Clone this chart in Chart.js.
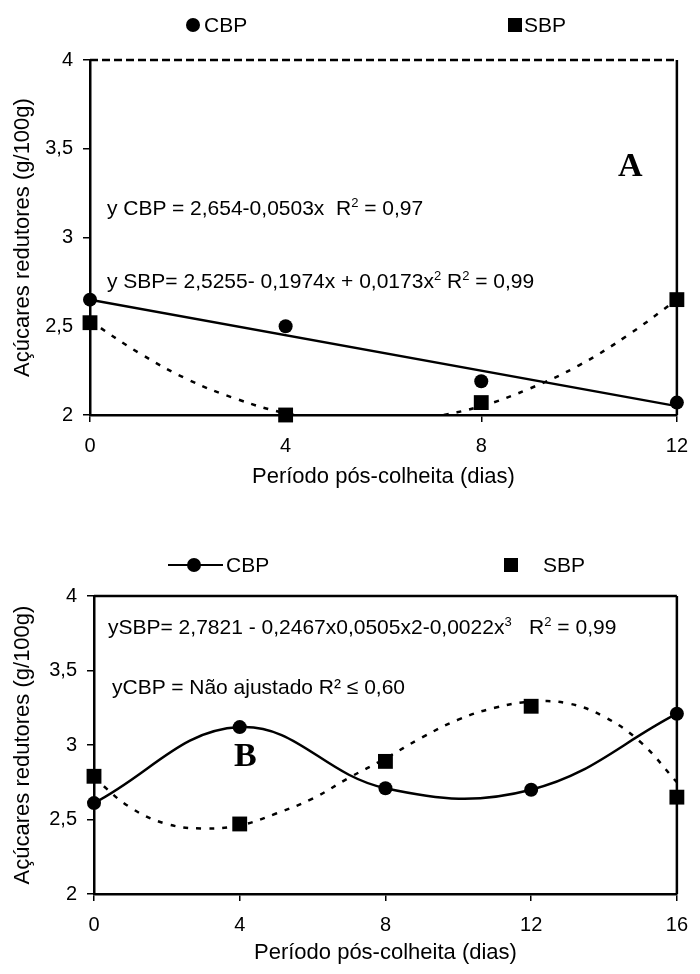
<!DOCTYPE html>
<html>
<head>
<meta charset="utf-8">
<script src="https://cdn.jsdelivr.net/npm/chart.js@4.4.0/dist/chart.umd.min.js"></script>
<style>
  body { margin: 0; background: #fff; width: 700px; height: 974px; position: relative; overflow: hidden;
         font-family: "Liberation Sans", Arial, sans-serif; color: #000; }
  canvas { position: absolute; left: 0; }
  #chartA { top: 0; }
  #chartB { top: 490px; }
  .t { position: absolute; font-size: 21px; line-height: 24px; white-space: nowrap; }
  .t sup { font-size: 13px; vertical-align: 8px; line-height: 0; }
  .dot { position: absolute; width: 14px; height: 14px; border-radius: 50%; background: #000; }
  .sq { position: absolute; width: 14px; height: 14px; background: #000; }
  .ln { position: absolute; height: 2px; background: #000; }
  .big { position: absolute; font-family: "Liberation Serif", "Times New Roman", serif; font-weight: bold;
         font-size: 34px; line-height: 34px; }
</style>
</head>
<body>
<canvas id="chartA" width="700" height="490"></canvas>
<canvas id="chartB" width="700" height="476"></canvas>

<!-- panel A legend and notes -->
<div class="dot" style="left:186px; top:18px;"></div>
<div class="t" style="left:204px; top:13px;">CBP</div>
<div class="sq" style="left:508px; top:18px;"></div>
<div class="t" style="left:524px; top:13px;">SBP</div>
<div class="t" style="left:107px; top:196px;">y CBP = 2,654-0,0503x&nbsp; R<sup>2</sup> = 0,97</div>
<div class="t" style="left:107px; top:269px;">y SBP= 2,5255- 0,1974x + 0,0173x<sup>2</sup> R<sup>2</sup> = 0,99</div>
<div class="big" style="left:618px; top:148px;">A</div>

<!-- panel B legend and notes -->
<div class="ln" style="left:168px; top:564px; width:55px;"></div>
<div class="dot" style="left:187px; top:558px;"></div>
<div class="t" style="left:226px; top:553px;">CBP</div>
<div class="sq" style="left:504px; top:558px;"></div>
<div class="t" style="left:543px; top:553px;">SBP</div>
<div class="t" style="left:108px; top:615px;">ySBP= 2,7821 - 0,2467x0,0505x2-0,0022x<sup>3</sup>&nbsp;&nbsp; R<sup>2</sup> = 0,99</div>
<div class="t" style="left:112px; top:675px;">yCBP = Não ajustado R² ≤ 0,60</div>
<div class="big" style="left:234px; top:738px;">B</div>

<script>
// panel A: observed points
const daysA = [0, 4, 8, 12];
const cbpA = [2.65, 2.50, 2.19, 2.07];
const sbpA = [2.52, 2.00, 2.07, 2.65];
// panel A: fitted lines
const cbpFitDays = [0, 12];
const cbpFitA = [2.65, 2.05];
const sbpFitDaysA = [0, 1, 2, 3, 4, 5, 6, 7, 8, 9, 10, 11, 12];
const sbpFitA = [2.53, 2.35, 2.20, 2.09, 2.01, 1.97, 1.96, 1.99, 2.05, 2.15, 2.28, 2.45, 2.65];

// panel B: observed points
const daysB = [0, 4, 8, 12, 16];
const cbpB = [2.61, 3.12, 2.71, 2.70, 3.21];
const sbpB = [2.79, 2.47, 2.89, 3.26, 2.65];
// panel B: fitted SBP curve
const sbpFitDaysB = [0, 1, 2, 3, 4, 5, 6, 7, 8, 9, 10, 11, 12, 13, 14, 15, 16];
const sbpFitB = [2.78, 2.58, 2.47, 2.44, 2.46, 2.54, 2.64, 2.78, 2.91, 3.05, 3.17, 3.25, 3.29,
                 3.28, 3.19, 3.02, 2.75];

const yTicks = [2, 2.5, 3, 3.5, 4];
const xTicksA = [0, 4, 8, 12];
const xTicksB = [0, 4, 8, 12, 16];
const yTitle = 'Açúcares redutores (g/100g)';
const xTitle = 'Período pós-colheita (dias)';

const FONT = '"Liberation Sans", Arial, sans-serif';

function pts(xs, ys) {
    return xs.map((x, i) => ({ x: x, y: ys[i] }));
}

// top + right frame of the plot area
const framePlugin = {
    id: 'frame',
    beforeDatasetsDraw(chart, args, opts) {
        const { ctx, chartArea } = chart;
        ctx.save();
        ctx.strokeStyle = '#000';
        ctx.lineWidth = 2.5;
        ctx.setLineDash(opts.topDash || []);
        ctx.beginPath();
        ctx.moveTo(chartArea.left, chartArea.top);
        ctx.lineTo(chartArea.right, chartArea.top);
        ctx.stroke();
        ctx.setLineDash([]);
        ctx.beginPath();
        ctx.moveTo(chartArea.right, chartArea.top);
        ctx.lineTo(chartArea.right, chartArea.bottom);
        ctx.stroke();
        ctx.restore();
    }
};

function axes(xTicks, yWidth, xHeight) {
    const grid = { drawOnChartArea: false, drawTicks: true, tickLength: 7, color: '#000', lineWidth: 1.5 };
    return {
        x: {
            type: 'linear',
            min: xTicks[0],
            max: xTicks[xTicks.length - 1],
            afterBuildTicks: s => { s.ticks = xTicks.map(v => ({ value: v })); },
            afterFit: s => { s.height = xHeight; },
            grid: grid,
            border: { color: '#000', width: 2.5 },
            ticks: { color: '#000', padding: 12, maxRotation: 0, font: { family: FONT, size: 20 } },
            title: { display: true, text: xTitle, color: '#000', padding: 0, font: { family: FONT, size: 22 } }
        },
        y: {
            type: 'linear',
            min: yTicks[0],
            max: yTicks[yTicks.length - 1],
            afterBuildTicks: s => { s.ticks = yTicks.map(v => ({ value: v })); },
            afterFit: s => { s.width = yWidth; },
            grid: grid,
            border: { color: '#000', width: 2.5 },
            ticks: {
                color: '#000', padding: 10, font: { family: FONT, size: 20 },
                callback: v => String(v).replace('.', ',')
            },
            title: { display: true, text: yTitle, color: '#000', padding: { top: 10, bottom: 0 },
                     font: { family: FONT, size: 22 } }
        }
    };
}

const baseOptions = {
    responsive: false,
    animation: false,
    devicePixelRatio: 1,
    plugins: { legend: { display: false }, tooltip: { enabled: false } }
};

function markers(label, xs, ys, style) {
    return {
        label: label,
        data: pts(xs, ys),
        pointStyle: style,
        pointRadius: style === 'rect' ? 10.5 : 7,
        backgroundColor: '#000', borderColor: '#000', borderWidth: 0,
        clip: false
    };
}

// Panel A
new Chart(document.getElementById('chartA'), {
    type: 'scatter',
    data: {
        datasets: [
            markers('CBP', daysA, cbpA, 'circle'),
            markers('SBP', daysA, sbpA, 'rect'),
            {
                label: 'CBP ajuste',
                data: pts(cbpFitDays, cbpFitA),
                showLine: true, pointRadius: 0,
                borderColor: '#000', borderWidth: 2.5
            },
            {
                label: 'SBP ajuste',
                data: pts(sbpFitDaysA, sbpFitA),
                showLine: true, pointRadius: 0, tension: 0.4,
                borderColor: '#000', borderWidth: 2.5, borderDash: [5, 8]
            }
        ]
    },
    options: Object.assign({}, baseOptions, {
        layout: { padding: { top: 60, right: 15, left: 0, bottom: 0 } },
        scales: axes(xTicksA, 90, 75),
        plugins: Object.assign({}, baseOptions.plugins, { frame: { topDash: [8, 4] } })
    }),
    plugins: [framePlugin]
});

// Panel B
new Chart(document.getElementById('chartB'), {
    type: 'scatter',
    data: {
        datasets: [
            Object.assign(markers('CBP', daysB, cbpB, 'circle'), {
                showLine: true, tension: 0.4, borderWidth: 2.5, pointBorderWidth: 0
            }),
            markers('SBP', daysB, sbpB, 'rect'),
            {
                label: 'SBP ajuste',
                data: pts(sbpFitDaysB, sbpFitB),
                showLine: true, pointRadius: 0, tension: 0.4,
                borderColor: '#000', borderWidth: 2.5, borderDash: [5, 8]
            }
        ]
    },
    options: Object.assign({}, baseOptions, {
        layout: { padding: { top: 106, right: 11, left: 0, bottom: 0 } },
        scales: axes(xTicksB, 94, 72),
        plugins: Object.assign({}, baseOptions.plugins, { frame: { topDash: [] } })
    }),
    plugins: [framePlugin]
});
</script>
</body>
</html>
